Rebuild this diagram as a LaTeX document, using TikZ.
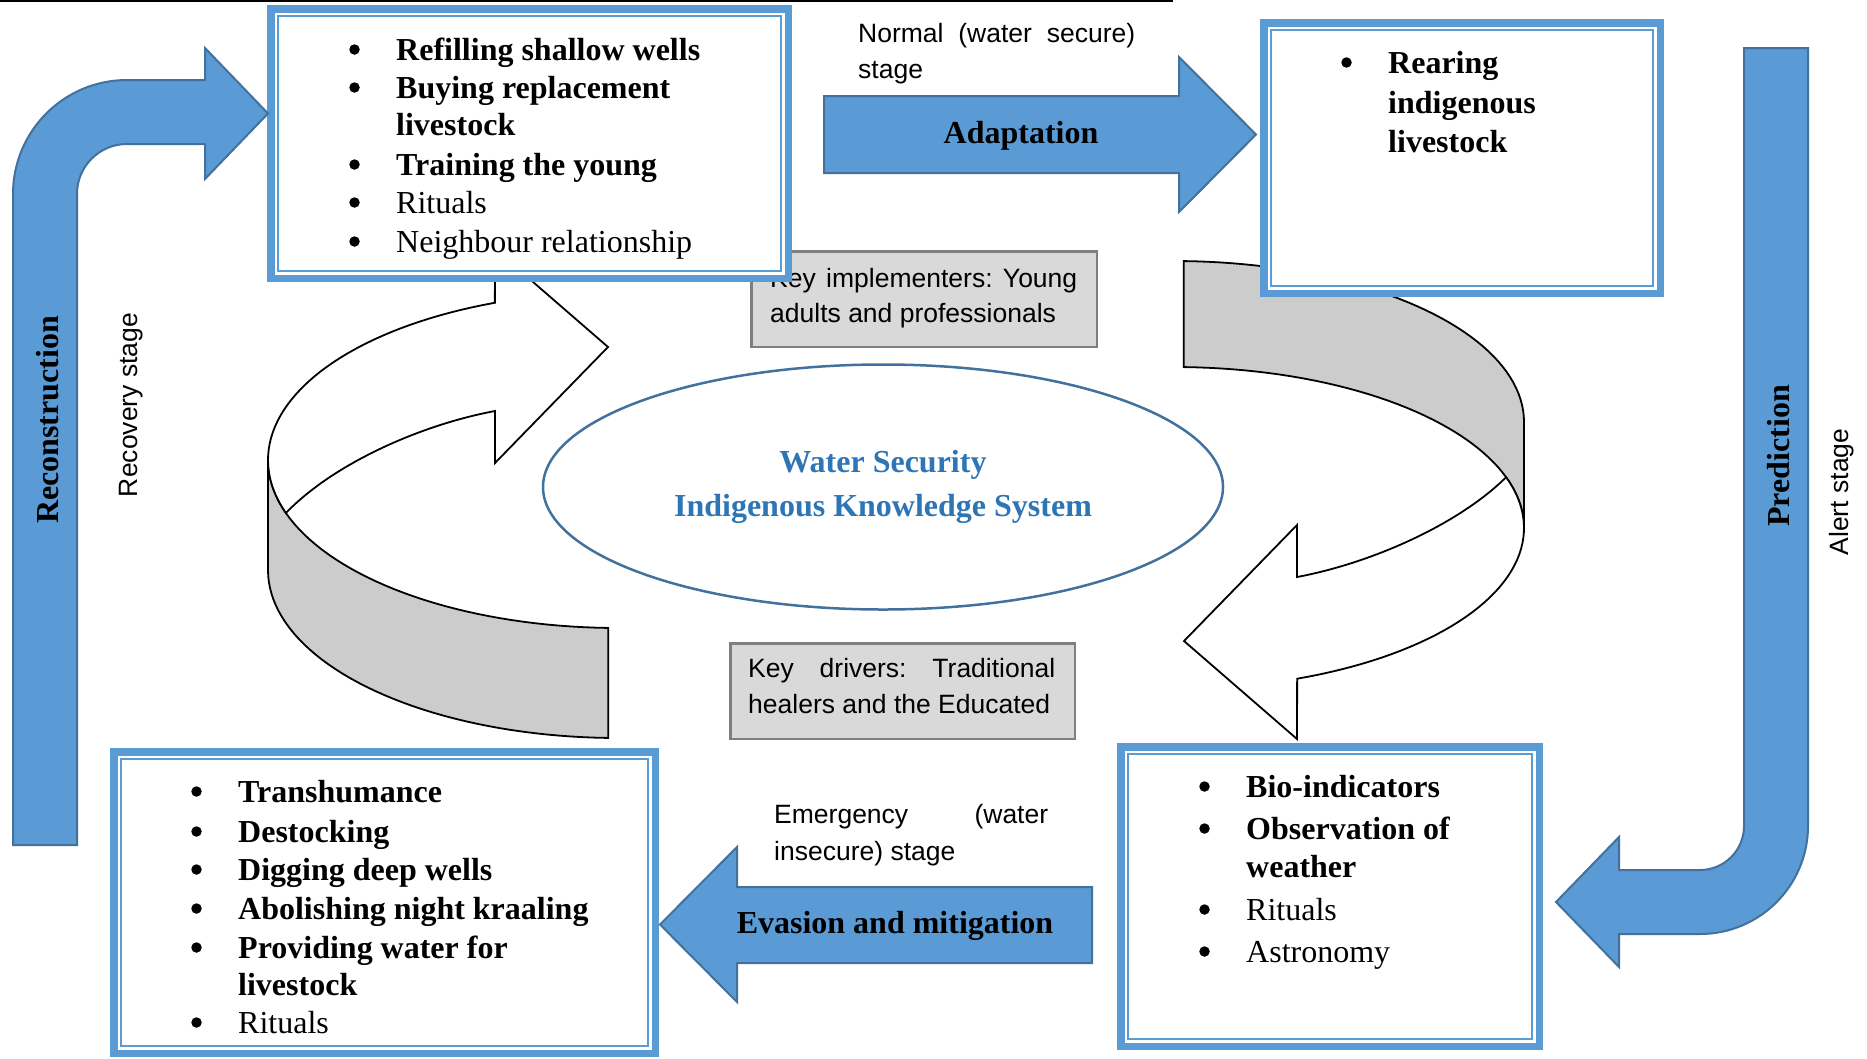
\documentclass[tikz,border=0pt]{standalone}
\usepackage{fontspec}
\setmainfont{Liberation Serif}
\setsansfont{Liberation Sans}
\usetikzlibrary{shapes.geometric}

\definecolor{arrowfill}{HTML}{5B9BD5}
\definecolor{arrowline}{HTML}{41719C}
\definecolor{frameblue}{HTML}{5B9BD5}
\definecolor{titleblue}{HTML}{2E75B6}
\definecolor{ellline}{HTML}{41719C}
\definecolor{bandgray}{HTML}{CCCCCC}
\definecolor{keygray}{HTML}{D9D9D9}
\definecolor{keyline}{HTML}{7F7F7F}

% framed list box: outer thick band and thin inner line
\newcommand\bluebox[5]{%
  \node[boxframe, minimum width=#4pt, minimum height=#5pt] (#1) at (#2,#3) {};
  \draw[framein] ([shift={(7.25pt,-7.25pt)}]#1.north west) rectangle ([shift={(-7.25pt,7.25pt)}]#1.south east);}

% bulleted line: name, bullet x, text x, baseline, text
\newcommand\bitem[5]{%
  \node[bulletdot] (#1b) at ({#2+5.5},{#4-10.5}) {};
  \node[listitem] (#1) at (#3,#4) {#5};}

% 3D circular arrow: grey side band and white top surface with head
% #1 = vertical half-axis of the ring, #2 = depth of the side band
\newcommand\ringarrow[2]{%
  \filldraw[ringband]
    plot[variable=\t, domain=180:91.6, samples=45] ({618+350*cos(\t)},{460+#1*sin(\t)})
    -- plot[variable=\t, domain=91.6:180, samples=45] ({618+350*cos(\t)},{460+#2+#1*sin(\t)})
    -- cycle;
  \filldraw[ringtop] (495,249) -- (608,347) -- (495,463) -- (495,411)
    .. controls (420,425) and (333,464) .. ({618+350*cos(161.6)},{460+#1*sin(161.6)})
    -- plot[variable=\t, domain=161.6:249.4, samples=45] ({618+350*cos(\t)},{460+#1*sin(\t)})
    -- cycle;}

\begin{document}
\begin{tikzpicture}[x=1pt, y=-1pt,
  boxframe/.style={draw=frameblue, line width=7.5pt, fill=white, inner sep=0pt, outer sep=0pt},
  framein/.style={draw=frameblue, line width=2pt},
  blockarrow/.style={fill=arrowfill, draw=arrowline, line width=2pt, line join=miter},
  ringband/.style={fill=bandgray, draw=black, line width=1.8pt, line join=miter},
  ringtop/.style={fill=white, draw=black, line width=1.8pt, line join=miter},
  keybox/.style={fill=keygray, draw=keyline, line width=2.5pt, inner sep=0pt, outer sep=0pt},
  listitem/.style={anchor=base west, inner sep=0pt, font=\fontsize{32}{38}\selectfont},
  bulletdot/.style={circle, fill=black, inner sep=0pt, minimum size=10.5pt},
  sanslbl/.style={anchor=base west, inner sep=0pt, font=\sffamily\fontsize{26.5}{34}\selectfont},
  arrowlbl/.style={anchor=base, inner sep=0pt, font=\bfseries\fontsize{32}{38}\selectfont},
  stagelbl/.style={rotate=90, inner sep=0pt, font=\sffamily\fontsize{26.5}{34}\selectfont},
  sidelbl/.style={rotate=90, inner sep=0pt, font=\bfseries\fontsize{32}{38}\selectfont},
  centre/.style={anchor=base, inner sep=0pt, text=titleblue, font=\bfseries\fontsize{32}{38}\selectfont}]

\useasboundingbox (0,0) rectangle (1867,1058);

% rule along the top
\coordinate (rulestart) at (0,1);
\coordinate (ruleend) at (1173,1);
\draw[line width=1.5pt] (rulestart) -- (ruleend);

% key implementers box (partly under the recovery box)
\node[keybox, minimum width=345.5pt, minimum height=95.5pt] (kimp) at (924,299) {};
\node[sanslbl] (kimp1) at (770,287) {\hbox to 307pt{Key\hfill implementers:\hfill Young}};
\node[sanslbl] (kimp2) at (770,322) {adults and professionals};

% circular arrows around the centre
\ringarrow{168}{110}
\begin{scope}[rotate around={180:(896,494)}]
  \ringarrow{161}{106}
\end{scope}

% centre ellipse
\node[ellipse, draw=ellline, line width=2.5pt, fill=white, minimum width=680pt, minimum height=245pt, inner sep=0pt] (core) at (883,487) {};
\node[centre] (core1) at (883,472) {Water Security};
\node[centre] (core2) at (883,516) {Indigenous Knowledge System};

% key drivers box
\node[keybox, minimum width=344.5pt, minimum height=95.5pt] (kdrv) at (902.5,691) {};
\node[sanslbl] (kdrv1) at (748,677) {\hbox to 307pt{Key\hfill drivers:\hfill Traditional}};
\node[sanslbl] (kdrv2) at (748,713) {healers and the Educated};

% four stage boxes
\bluebox{rec}{529.5}{143.5}{517.5}{269.5}
\bluebox{nor}{1462}{158}{396.5}{270.5}
\bluebox{emg}{384.5}{902.5}{541.5}{301.5}
\bluebox{alr}{1330}{896.5}{418.5}{299.5}

% recovery measures
\bitem{rec1}{349}{396}{60}{\bfseries Refilling shallow wells}
\bitem{rec2}{349}{396}{98}{\bfseries Buying replacement}
\node[listitem] (rec2c) at (396,135) {\bfseries livestock};
\bitem{rec3}{349}{396}{175}{\bfseries Training the young}
\bitem{rec4}{349}{396}{213}{Rituals}
\bitem{rec5}{349}{396}{252}{Neighbour relationship}

% normal stage measures
\bitem{nor1}{1341}{1388}{73}{\bfseries Rearing}
\node[listitem] (nor1c) at (1388,113) {\bfseries indigenous};
\node[listitem] (nor1d) at (1388,152) {\bfseries livestock};

% emergency measures
\bitem{emg1}{191}{238}{802}{\bfseries Transhumance}
\bitem{emg2}{191}{238}{842}{\bfseries Destocking}
\bitem{emg3}{191}{238}{880}{\bfseries Digging deep wells}
\bitem{emg4}{191}{238}{919}{\bfseries Abolishing night kraaling}
\bitem{emg5}{191}{238}{958}{\bfseries Providing water for}
\node[listitem] (emg5c) at (238,995) {\bfseries livestock};
\bitem{emg6}{191}{238}{1033}{Rituals}

% alert measures
\bitem{alr1}{1199}{1246}{797}{\bfseries Bio-indicators}
\bitem{alr2}{1199}{1246}{839}{\bfseries Observation of}
\node[listitem] (alr2c) at (1246,877) {\bfseries weather};
\bitem{alr3}{1199}{1246}{920}{Rituals}
\bitem{alr4}{1199}{1246}{962}{Astronomy}

% adaptation arrow
\filldraw[blockarrow] (824,96) -- (1179,96) -- (1179,57) -- (1256,134.5) -- (1179,212) -- (1179,173) -- (824,173) -- cycle;
\node[arrowlbl] (adapt) at (1021,143) {Adaptation};

% evasion arrow
\filldraw[blockarrow] (1092,887) -- (737,887) -- (737,847) -- (660,924.5) -- (737,1002) -- (737,963) -- (1092,963) -- cycle;
\node[arrowlbl] (evade) at (895,933) {Evasion and mitigation};

% reconstruction arrow (up the left side, then right)
\filldraw[blockarrow] (13,845) -- (13,194) .. controls (13,131) and (64,80) .. (127,80)
  -- (205,80) -- (205,48) -- (268,113.5) -- (205,179) -- (205,144) -- (127,144)
  .. controls (99.4,144) and (77,166.4) .. (77,194) -- (77,845) -- cycle;
\node[sidelbl] (recon) at (48,420) {Reconstruction};

% prediction arrow (down the right side, then left)
\filldraw[blockarrow] (1744,48) -- (1808,48) -- (1808,826) .. controls (1808,885.6) and (1759.6,934) .. (1700,934)
  -- (1619,934) -- (1619,967) -- (1556,902) -- (1619,837) -- (1619,870) -- (1700,870)
  .. controls (1724.3,870) and (1744,850.3) .. (1744,826) -- cycle;
\node[sidelbl] (pred) at (1779,456) {Prediction};

% stage names
\node[sanslbl] (norm1) at (858,42) {\hbox to 277pt{Normal\hfill(water\hfill secure)}};
\node[sanslbl] (norm2) at (858,78) {stage};
\node[sanslbl] (emgs1) at (774,823) {\hbox to 274pt{Emergency\hfill(water}};
\node[sanslbl] (emgs2) at (774,860) {insecure) stage};
\node[stagelbl] (recs) at (131,405) {Recovery stage};
\node[stagelbl] (alrs) at (1842,492) {Alert stage};

\end{tikzpicture}
\end{document}
